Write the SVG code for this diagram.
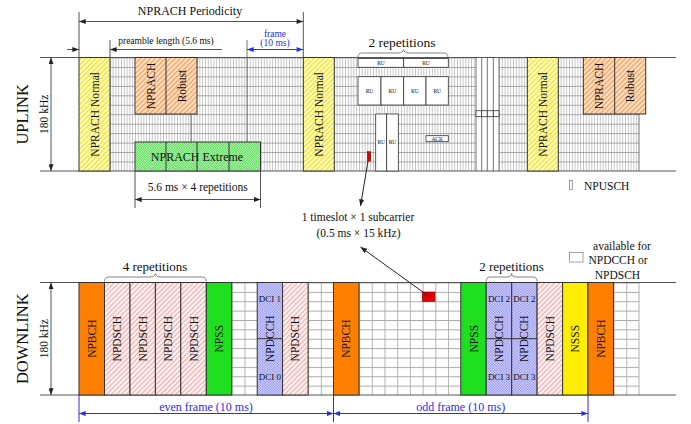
<svg xmlns="http://www.w3.org/2000/svg" width="691" height="424" viewBox="0 0 691 424">
<style>
text{font-family:"Liberation Serif","Times New Roman",serif;fill:#111}
.ln{stroke:#555;stroke-width:1;fill:none}
.bk{stroke:#222;stroke-width:1;fill:none}
.blk{stroke:#333;stroke-width:1}
.fr{stroke:#666;stroke-width:0.9}
.blue{stroke:#2b2bf0;stroke-width:1;fill:none}
.bt{fill:#2b2bf0}
.t11{font-size:11.5px}
.t12{font-size:12px}
.ru{font-size:5.5px}
.dci{font-size:9px}
.brace{stroke:#777;stroke-width:0.9;fill:none}
.wc{fill:#fff;stroke:#333;stroke-width:0.8}
</style>
<defs>
<pattern id="ulg" patternUnits="userSpaceOnUse" x="79" y="57.5" width="2.8" height="9.458">
<rect width="2.8" height="9.458" fill="#fff"/>
<line x1="0.3" y1="0" x2="0.3" y2="9.458" stroke="#8c8c8c" stroke-width="0.6"/>
<line x1="0" y1="0.35" x2="2.8" y2="0.35" stroke="#7a7a7a" stroke-width="0.7"/>
</pattern>
<pattern id="dlg" patternUnits="userSpaceOnUse" x="79" y="282.5" width="12.727" height="9.375">
<rect width="12.727" height="9.375" fill="#fff"/>
<line x1="0.4" y1="0" x2="0.4" y2="9.375" stroke="#999" stroke-width="0.8"/>
<line x1="0" y1="0.5" x2="12.727" y2="0.5" stroke="#aaa" stroke-width="1"/>
</pattern>
<pattern id="hY" patternUnits="userSpaceOnUse" width="3.5" height="3.5" patternTransform="rotate(45)">
<rect width="3.5" height="3.5" fill="#ffffc4"/>
<line x1="0.7" y1="0" x2="0.7" y2="3.5" stroke="#f2e030" stroke-width="1.3"/>
</pattern>
<pattern id="hO" patternUnits="userSpaceOnUse" width="3.5" height="3.5" patternTransform="rotate(45)">
<rect width="3.5" height="3.5" fill="#fde2c8"/>
<line x1="0.7" y1="0" x2="0.7" y2="3.5" stroke="#f4a05a" stroke-width="1.3"/>
</pattern>
<pattern id="hP" patternUnits="userSpaceOnUse" width="3.5" height="3.5" patternTransform="rotate(45)">
<rect width="3.5" height="3.5" fill="#fff5f5"/>
<line x1="0.7" y1="0" x2="0.7" y2="3.5" stroke="#f0a4a4" stroke-width="1.1"/>
</pattern>
<pattern id="dG" patternUnits="userSpaceOnUse" width="2.4" height="2.4">
<rect width="2.4" height="2.4" fill="#d6f7d2"/>
<rect width="1.2" height="1.2" fill="#38d838"/>
<rect x="1.2" y="1.2" width="1.2" height="1.2" fill="#38d838"/>
</pattern>
<pattern id="dB" patternUnits="userSpaceOnUse" width="2.6" height="2.6">
<rect width="2.6" height="2.6" fill="#e2e2ff"/>
<rect width="1.3" height="1.3" fill="#8888ee"/>
<rect x="1.3" y="1.3" width="1.3" height="1.3" fill="#8888ee"/>
</pattern>
<marker id="ah" viewBox="0 0 8 6" markerWidth="7" markerHeight="5" refX="8" refY="3" orient="auto-start-reverse" markerUnits="userSpaceOnUse">
<path d="M0,0 L8,3 L0,6 z" fill="#222"/>
</marker>
<marker id="ahb" viewBox="0 0 8 6" markerWidth="7" markerHeight="5" refX="8" refY="3" orient="auto-start-reverse" markerUnits="userSpaceOnUse">
<path d="M0,0 L8,3 L0,6 z" fill="#2b2bf0"/>
</marker>
</defs>

<!-- ================= UPLINK ================= -->
<g id="uplink-grid">
<rect x="79" y="57.5" width="560" height="113.5" fill="url(#ulg)"/>
<line class="fr" x1="191" y1="57.5" x2="191" y2="171"/>
<line class="fr" x1="247" y1="40" x2="247" y2="171"/>
<line class="fr" x1="639" y1="57.5" x2="639" y2="171"/>
<rect x="476" y="57.5" width="23" height="113.5" fill="#fff"/>
<g class="fr">
<line x1="476" y1="57.5" x2="476" y2="171"/>
<line x1="481.7" y1="57.5" x2="481.7" y2="171"/>
<line x1="487.3" y1="57.5" x2="487.3" y2="171"/>
<line x1="493.3" y1="57.5" x2="493.3" y2="171"/>
<line x1="499" y1="57.5" x2="499" y2="171"/>
</g>
<g class="wc">
<rect x="476" y="110.7" width="5.7" height="6"/>
<rect x="481.7" y="110.7" width="5.6" height="6"/>
<rect x="487.3" y="110.7" width="6" height="6"/>
<rect x="493.3" y="110.7" width="5.7" height="6"/>
</g>
<line class="ln" x1="40" y1="57.5" x2="676" y2="57.5"/>
<line class="ln" x1="40" y1="171" x2="676" y2="171"/>
</g>

<g id="ul-label">
<text transform="translate(27.5,114.3) rotate(-90)" text-anchor="middle" font-size="16.5">UPLINK</text>
<text transform="translate(47.5,114.3) rotate(-90)" text-anchor="middle" font-size="11.5">180 kHz</text>
</g>

<g id="nprach-normal-1">
<rect class="blk" x="79" y="57.5" width="31" height="113.5" fill="url(#hY)"/>
<text class="t11" transform="translate(98.5,114.3) rotate(-90)" text-anchor="middle">NPRACH Normal</text>
</g>
<g id="nprach-robust-1">
<rect class="blk" x="135" y="57.5" width="62" height="56.5" fill="url(#hO)"/>
<line class="blk" x1="166" y1="57.5" x2="166" y2="114"/>
<text class="t11" transform="translate(154.5,86) rotate(-90)" text-anchor="middle">NPRACH</text>
<text class="t11" transform="translate(185.5,86) rotate(-90)" text-anchor="middle">Robust</text>
</g>
<g id="nprach-extreme">
<rect class="blk" x="135" y="142" width="125.5" height="29" fill="url(#dG)"/>
<line class="blk" x1="166" y1="142" x2="166" y2="171" stroke-width="0.7"/>
<line class="blk" x1="197" y1="142" x2="197" y2="171" stroke-width="0.7"/>
<line class="blk" x1="229" y1="142" x2="229" y2="171" stroke-width="0.7"/>
<text class="t12" x="197" y="161" text-anchor="middle">NPRACH Extreme</text>
</g>
<g id="nprach-normal-2">
<rect class="blk" x="303.3" y="57.5" width="31" height="113.5" fill="url(#hY)"/>
<text class="t11" transform="translate(322.8,114.3) rotate(-90)" text-anchor="middle">NPRACH Normal</text>
</g>
<g id="nprach-normal-3">
<rect class="blk" x="527.3" y="57.5" width="31" height="113.5" fill="url(#hY)"/>
<text class="t11" transform="translate(546.8,114.3) rotate(-90)" text-anchor="middle">NPRACH Normal</text>
</g>
<g id="nprach-robust-2">
<rect class="blk" x="583.3" y="57.5" width="62.4" height="56.5" fill="url(#hO)"/>
<line class="blk" x1="614.7" y1="57.5" x2="614.7" y2="114"/>
<text class="t11" transform="translate(603,86) rotate(-90)" text-anchor="middle">NPRACH</text>
<text class="t11" transform="translate(634,86) rotate(-90)" text-anchor="middle">Robust</text>
</g>

<g id="npusch-ru">
<rect class="wc" x="358" y="58.5" width="45.7" height="8.8"/>
<rect class="wc" x="403.7" y="58.5" width="44.6" height="8.8"/>
<text class="ru" x="381" y="65" text-anchor="middle">RU</text>
<text class="ru" x="426" y="65" text-anchor="middle">RU</text>
<rect class="wc" x="358" y="76.7" width="23" height="28.3"/>
<rect class="wc" x="381" y="76.7" width="22.7" height="28.3"/>
<rect class="wc" x="403.7" y="76.7" width="22.3" height="28.3"/>
<rect class="wc" x="426" y="76.7" width="22.3" height="28.3"/>
<rect class="wc" x="375.7" y="114" width="11" height="57"/>
<rect class="wc" x="386.7" y="114" width="11.6" height="57"/>
<rect class="wc" x="426" y="135.7" width="22.3" height="6"/>
<g class="ru" text-anchor="middle">
<text x="369.5" y="93">RU</text>
<text x="392.3" y="93">RU</text>
<text x="414.8" y="93">RU</text>
<text x="437.2" y="93">RU</text>
<text x="381.2" y="144">RU</text>
<text x="392.5" y="144">RU</text>
<text x="437.2" y="140.8">ACK</text>
</g>
</g>
<g id="ul-red-cell">
<rect x="367.3" y="151.7" width="3.4" height="9.4" fill="#e00000" stroke="#700" stroke-width="0.5"/>
</g>

<!-- ================= DOWNLINK ================= -->
<g id="downlink-grid">
<rect x="79" y="282.5" width="560" height="112.5" fill="url(#dlg)"/>
<line x1="639" y1="282.5" x2="639" y2="395" stroke="#999" stroke-width="0.8"/>
<line class="ln" x1="40" y1="282.5" x2="676" y2="282.5"/>
<line class="ln" x1="40" y1="395" x2="676" y2="395"/>
</g>
<g id="dl-label">
<text transform="translate(27.5,338.7) rotate(-90)" text-anchor="middle" font-size="16.5">DOWNLINK</text>
<text transform="translate(47.5,338.7) rotate(-90)" text-anchor="middle" font-size="11.5">180 kHz</text>
</g>

<g id="npbch-1">
<rect class="blk" x="79" y="282.5" width="25.5" height="112.5" fill="#ff8000"/>
<text class="t11" transform="translate(95.8,338.7) rotate(-90)" text-anchor="middle">NPBCH</text>
</g>
<g id="npdsch-rep">
<rect class="blk" x="104.5" y="282.5" width="25.5" height="112.5" fill="url(#hP)"/>
<rect class="blk" x="130" y="282.5" width="25.4" height="112.5" fill="url(#hP)"/>
<rect class="blk" x="155.4" y="282.5" width="25.4" height="112.5" fill="url(#hP)"/>
<rect class="blk" x="180.8" y="282.5" width="25.5" height="112.5" fill="url(#hP)"/>
<text class="t11" transform="translate(121.3,338.7) rotate(-90)" text-anchor="middle">NPDSCH</text>
<text class="t11" transform="translate(146.7,338.7) rotate(-90)" text-anchor="middle">NPDSCH</text>
<text class="t11" transform="translate(172.1,338.7) rotate(-90)" text-anchor="middle">NPDSCH</text>
<text class="t11" transform="translate(197.5,338.7) rotate(-90)" text-anchor="middle">NPDSCH</text>
</g>
<g id="npss-1">
<rect class="blk" x="206.3" y="282.5" width="25.4" height="112.5" fill="#1fe01f"/>
<text class="t11" transform="translate(223,338.7) rotate(-90)" text-anchor="middle">NPSS</text>
</g>
<g id="npdcch-1">
<rect class="blk" x="257.2" y="282.5" width="25.4" height="112.5" fill="url(#dB)"/>
<line class="blk" x1="257.2" y1="338.7" x2="282.6" y2="338.7" stroke-width="0.8"/>
<text class="dci" x="269.9" y="302" text-anchor="middle">DCI 1</text>
<text class="dci" x="269.9" y="380" text-anchor="middle">DCI 0</text>
<text class="t11" transform="translate(273.9,338.7) rotate(-90)" text-anchor="middle">NPDCCH</text>
</g>
<g id="npdsch-2">
<rect class="blk" x="282.6" y="282.5" width="25.5" height="112.5" fill="url(#hP)"/>
<text class="t11" transform="translate(299.4,338.7) rotate(-90)" text-anchor="middle">NPDSCH</text>
</g>
<g id="npbch-2">
<rect class="blk" x="333.5" y="282.5" width="25.5" height="112.5" fill="#ff8000"/>
<text class="t11" transform="translate(350.3,338.7) rotate(-90)" text-anchor="middle">NPBCH</text>
</g>
<g id="dl-red-cell">
<rect x="422.3" y="292" width="12.7" height="9.4" fill="#e00000" stroke="#800" stroke-width="0.6"/>
</g>
<g id="npss-2">
<rect class="blk" x="460.8" y="282.5" width="25.4" height="112.5" fill="#1fe01f"/>
<text class="t11" transform="translate(477.5,338.7) rotate(-90)" text-anchor="middle">NPSS</text>
</g>
<g id="npdcch-2">
<rect class="blk" x="486.2" y="282.5" width="25.5" height="112.5" fill="url(#dB)"/>
<rect class="blk" x="511.7" y="282.5" width="25.4" height="112.5" fill="url(#dB)"/>
<line class="blk" x1="486.2" y1="338.7" x2="537.1" y2="338.7" stroke-width="0.8"/>
<text class="dci" x="499" y="302" text-anchor="middle">DCI 2</text>
<text class="dci" x="524.4" y="302" text-anchor="middle">DCI 2</text>
<text class="dci" x="499" y="380" text-anchor="middle">DCI 3</text>
<text class="dci" x="524.4" y="380" text-anchor="middle">DCI 3</text>
<text class="t11" transform="translate(503,338.7) rotate(-90)" text-anchor="middle">NPDCCH</text>
<text class="t11" transform="translate(528.4,338.7) rotate(-90)" text-anchor="middle">NPDCCH</text>
</g>
<g id="npdsch-3">
<rect class="blk" x="537.1" y="282.5" width="25.5" height="112.5" fill="url(#hP)"/>
<text class="t11" transform="translate(553.9,338.7) rotate(-90)" text-anchor="middle">NPDSCH</text>
</g>
<g id="nsss">
<rect class="blk" x="562.6" y="282.5" width="25.4" height="112.5" fill="#ffee00"/>
<text class="t11" transform="translate(579.3,338.7) rotate(-90)" text-anchor="middle">NSSS</text>
</g>
<g id="npbch-3">
<rect class="blk" x="588" y="282.5" width="25.5" height="112.5" fill="#ff8000"/>
<text class="t11" transform="translate(604.8,338.7) rotate(-90)" text-anchor="middle">NPBCH</text>
</g>

<!-- ================= ANNOTATIONS ================= -->
<g id="periodicity">
<text x="190" y="14.5" text-anchor="middle" font-size="12">NPRACH Periodicity</text>
<line class="ln" x1="79" y1="12" x2="79" y2="57.5"/>
<line class="ln" x1="303.3" y1="12" x2="303.3" y2="57.5"/>
</g>
<g id="preamble">
<text x="166" y="43.5" text-anchor="middle" font-size="9.5">preamble length (5.6 ms)</text>
<line class="ln" x1="110" y1="40" x2="110" y2="57.5"/>
</g>
<g id="frame-label">
<text class="bt" x="275" y="37" text-anchor="middle" font-size="9.5">frame</text>
<text class="bt" x="275" y="46" text-anchor="middle" font-size="9.5">(10 ms)</text>
</g>
<g id="extreme-dim">
<line class="ln" x1="135" y1="171" x2="135" y2="208"/>
<line class="ln" x1="260.5" y1="171" x2="260.5" y2="208"/>
<text x="197.7" y="191" text-anchor="middle" font-size="11.5">5.6 ms × 4 repetitions</text>
</g>
<g id="ul-reps">
<text x="402" y="46.5" text-anchor="middle" font-size="13.5">2 repetitions</text>
<path class="brace" d="M358,57.5 Q358,53 362,53 L398,53 Q403,53 403.5,49.5 Q404,53 409,53 L444,53 Q448,53 448,57.5"/>
</g>
<g id="timeslot-label">
<text x="358" y="220.5" text-anchor="middle" font-size="11.5">1 timeslot × 1 subcarrier</text>
<text x="358.5" y="236.5" text-anchor="middle" font-size="11.5">(0.5 ms × 15 kHz)</text>
</g>
<g id="dl-reps-4">
<text x="155" y="271" text-anchor="middle" font-size="13">4 repetitions</text>
<path class="brace" d="M104.5,281.5 Q104.5,277 109,277 L150,277 Q155.4,277 155.4,273.5 Q155.4,277 161,277 L202,277 Q206.3,277 206.3,281.5"/>
</g>
<g id="dl-reps-2">
<text x="511.5" y="271" text-anchor="middle" font-size="13">2 repetitions</text>
<path class="brace" d="M486.2,281.5 Q486.2,277 490,277 L507,277 Q511.7,277 511.7,273.5 Q511.7,277 516,277 L533,277 Q537.1,277 537.1,281.5"/>
</g>
<g id="legend">
<rect x="569.5" y="180.5" width="2.8" height="9" fill="#fff" stroke="#888" stroke-width="0.8"/>
<text x="584" y="189.5" font-size="11.5">NPUSCH</text>
<rect x="569.5" y="252.5" width="13.5" height="9.5" fill="#fff" stroke="#999" stroke-width="0.9"/>
<text x="622" y="250" text-anchor="middle" font-size="11.5">available for</text>
<text x="618" y="264" text-anchor="middle" font-size="11.5">NPDCCH or</text>
<text x="617.5" y="279" text-anchor="middle" font-size="11.5">NPDSCH</text>
</g>
<g id="frame-dims">
<text class="bt" x="206" y="410.5" text-anchor="middle" font-size="12">even frame (10 ms)</text>
<text class="bt" x="460.7" y="410.5" text-anchor="middle" font-size="12">odd frame (10 ms)</text>
<line class="blue" x1="79" y1="395" x2="79" y2="422"/>
<line class="blue" x1="333.5" y1="395" x2="333.5" y2="422"/>
<line class="blue" x1="588" y1="395" x2="588" y2="422"/>
</g>

<g id="connectors">
<line class="ln" x1="79" y1="21.5" x2="303.3" y2="21.5" stroke="#333" marker-start="url(#ah)" marker-end="url(#ah)"/>
<line class="ln" x1="67" y1="49.5" x2="79" y2="49.5" stroke="#333" marker-end="url(#ah)"/>
<line class="ln" x1="110" y1="49.5" x2="222" y2="49.5" stroke="#333" marker-start="url(#ah)"/>
<line class="blue" x1="247" y1="49.5" x2="303.3" y2="49.5" marker-start="url(#ahb)" marker-end="url(#ahb)"/>
<line class="ln" x1="135" y1="199.5" x2="260.5" y2="199.5" stroke="#333" marker-start="url(#ah)" marker-end="url(#ah)"/>
<line class="ln" x1="51" y1="57.5" x2="51" y2="171" stroke="#333" marker-start="url(#ah)" marker-end="url(#ah)"/>
<line class="ln" x1="51" y1="282.5" x2="51" y2="395" stroke="#333" marker-start="url(#ah)" marker-end="url(#ah)"/>
<line class="bk" x1="368" y1="161" x2="360.5" y2="206" marker-end="url(#ah)"/>
<line class="bk" x1="427" y1="295" x2="360.5" y2="247" marker-end="url(#ah)"/>
<line class="blue" x1="79" y1="413.5" x2="333.5" y2="413.5" marker-start="url(#ahb)" marker-end="url(#ahb)"/>
<line class="blue" x1="333.5" y1="413.5" x2="588" y2="413.5" marker-start="url(#ahb)" marker-end="url(#ahb)"/>
</g>
</svg>
